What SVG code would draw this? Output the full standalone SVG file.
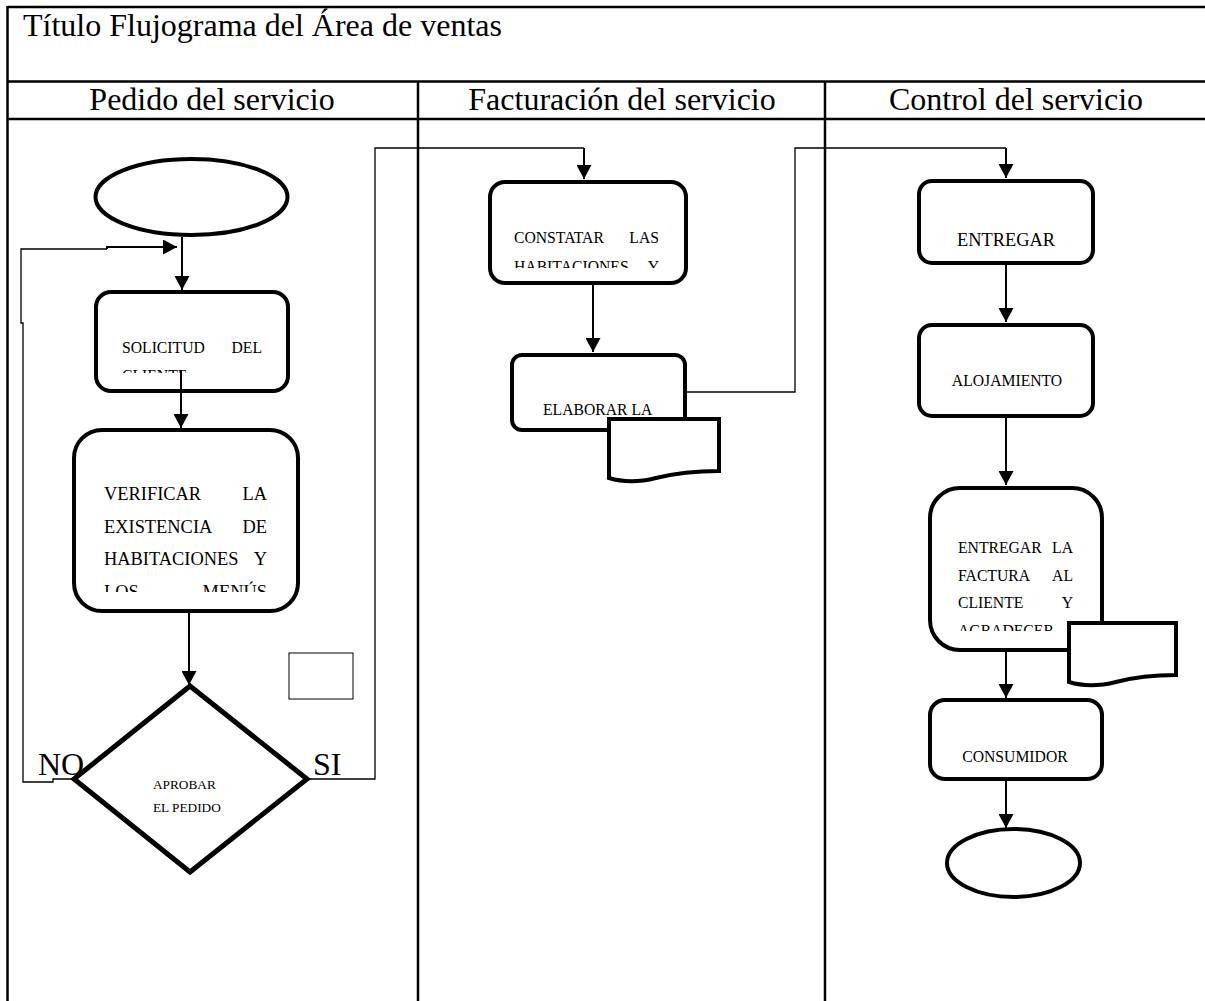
<svg xmlns="http://www.w3.org/2000/svg" width="1205" height="1001" viewBox="0 0 1205 1001">
<style>
.frame{stroke:#000;stroke-width:2.5;fill:none}
.hdr{font-family:"Liberation Serif","Times New Roman",serif;font-size:32px;fill:#000}
.box{fill:#fff;stroke:#000;stroke-width:4}
.t{font-family:"Liberation Serif","Times New Roman",serif;font-size:15.7px;fill:#000}
.tb{font-family:"Liberation Serif","Times New Roman",serif;font-size:18.4px;fill:#000}
.ts{font-family:"Liberation Serif","Times New Roman",serif;font-size:13.3px;fill:#000}
.c{fill:none;stroke:#000;stroke-width:1.3}
.a{fill:none;stroke:#000;stroke-width:2;marker-end:url(#ah)}
</style>
<defs>
<marker id="ah" markerUnits="userSpaceOnUse" markerWidth="15" markerHeight="15" refX="14" refY="7.5" orient="auto">
<path d="M0,0 L14,7.5 L0,15 Z" fill="#000"/>
</marker>
<clipPath id="cSol"><rect x="90" y="290" width="200" height="83"/></clipPath>
<clipPath id="cVer"><rect x="70" y="428" width="230" height="164"/></clipPath>
<clipPath id="cCon"><rect x="488" y="180" width="200" height="88"/></clipPath>
<clipPath id="cEnt"><rect x="928" y="486" width="176" height="145"/></clipPath>
</defs>
<rect width="1205" height="1001" fill="#fff"/>

<g id="frame">
<line class="frame" x1="7.5" y1="7" x2="1205" y2="7"/>
<line class="frame" x1="7.5" y1="81.5" x2="1205" y2="81.5"/>
<line class="frame" x1="7.5" y1="119" x2="1205" y2="119"/>
<line class="frame" x1="7.5" y1="6" x2="7.5" y2="1001"/>
<line class="frame" x1="418" y1="81.5" x2="418" y2="1001"/>
<line class="frame" x1="825" y1="81.5" x2="825" y2="1001"/>
<text class="hdr" x="23" y="36">Título Flujograma del Área de ventas</text>
<text class="hdr" x="212" y="110" text-anchor="middle">Pedido del servicio</text>
<text class="hdr" x="622" y="110" text-anchor="middle">Facturación del servicio</text>
<text class="hdr" x="1016" y="110" text-anchor="middle">Control del servicio</text>
</g>

<g id="start"><ellipse class="box" cx="191.5" cy="197" rx="96" ry="38"/></g>

<g id="solicitud">
<rect class="box" x="96" y="292" width="192" height="99" rx="15"/>
<g clip-path="url(#cSol)">
<text class="t" x="122" y="353">SOLICITUD</text><text class="t" x="262" y="353" text-anchor="end">DEL</text>
<text class="t" x="122" y="381">CLIENTE</text>
</g>
</g>

<g id="verificar">
<rect class="box" x="74" y="430" width="224" height="181" rx="28"/>
<g clip-path="url(#cVer)">
<text class="tb" x="104" y="500">VERIFICAR</text><text class="tb" x="267" y="500" text-anchor="end">LA</text>
<text class="tb" x="104" y="533">EXISTENCIA</text><text class="tb" x="267" y="533" text-anchor="end">DE</text>
<text class="tb" x="104" y="565">HABITACIONES</text><text class="tb" x="267" y="565" text-anchor="end">Y</text>
<text class="tb" x="104" y="598">LOS</text><text class="tb" x="267" y="598" text-anchor="end">MENÚS</text>
</g>
</g>

<g id="aprobar">
<polygon points="190,686 307,779 190,872 74,779" fill="#fff" stroke="#000" stroke-width="5" stroke-linejoin="miter"/>
<text class="ts" x="153" y="789">APROBAR</text>
<text class="ts" x="153" y="812">EL PEDIDO</text>
</g>

<g id="smallbox"><rect x="289" y="653" width="64" height="46" fill="#fff" stroke="#000" stroke-width="1"/></g>

<g id="labels">
<text class="hdr" x="38" y="775">NO</text>
<text class="hdr" x="313" y="775">SI</text>
</g>

<g id="constatar">
<rect class="box" x="490" y="182" width="196" height="101" rx="15"/>
<g clip-path="url(#cCon)">
<text class="t" x="514" y="243">CONSTATAR</text><text class="t" x="659" y="243" text-anchor="end">LAS</text>
<text class="t" x="514" y="272">HABITACIONES</text><text class="t" x="659" y="272" text-anchor="end">Y</text>
</g>
</g>

<g id="elaborar">
<rect class="box" x="512" y="355" width="173" height="75" rx="10"/>
<text class="t" x="543" y="415">ELABORAR LA</text>
<path class="box" d="M609,419 H719 V471 C692,471 672,474 656,478 C640,482 622,482 609,478 Z"/>
</g>

<g id="entregar">
<rect class="box" x="919" y="181" width="174" height="82" rx="13"/>
<text class="tb" x="1006" y="246" text-anchor="middle">ENTREGAR</text>
</g>

<g id="alojamiento">
<rect class="box" x="919" y="325" width="174" height="91" rx="13"/>
<text class="t" x="1007" y="386" text-anchor="middle">ALOJAMIENTO</text>
</g>

<g id="entregarfactura">
<rect class="box" x="930" y="488" width="172" height="162" rx="30"/>
<g clip-path="url(#cEnt)">
<text class="t" x="958" y="553">ENTREGAR</text><text class="t" x="1073" y="553" text-anchor="end">LA</text>
<text class="t" x="958" y="581">FACTURA</text><text class="t" x="1073" y="581" text-anchor="end">AL</text>
<text class="t" x="958" y="608">CLIENTE</text><text class="t" x="1073" y="608" text-anchor="end">Y</text>
<text class="t" x="958" y="636">AGRADECER</text>
</g>
<path class="box" d="M1069,623 H1176 V675 C1150,675 1131,678 1116,682 C1100,686 1082,686 1069,682 Z"/>
</g>

<g id="consumidor">
<rect class="box" x="930" y="700" width="172" height="79" rx="15"/>
<text class="t" x="1015" y="762" text-anchor="middle">CONSUMIDOR</text>
</g>

<g id="end"><ellipse class="box" cx="1013.5" cy="863" rx="66.5" ry="34"/></g>

<g id="connectors">
<line class="a" x1="182" y1="237" x2="182" y2="290"/>
<line class="a" x1="181" y1="370" x2="181" y2="428"/>
<line class="a" x1="189" y1="613" x2="189" y2="685"/>
<polyline class="c" points="73,779 53,779 53,782 23,782 23,323 21,323 21,249 107,249"/>
<polyline class="a" points="107,249 107,247 177,247"/>
<polyline class="c" points="308,779 375,779 375,148 584,148"/>
<line class="a" x1="584" y1="148" x2="584" y2="179"/>
<line class="a" x1="593" y1="285" x2="593" y2="352"/>
<polyline class="c" points="687,392 795,392 795,148 1006,148"/>
<line class="a" x1="1006" y1="148" x2="1006" y2="178"/>
<line class="a" x1="1006" y1="265" x2="1006" y2="322"/>
<line class="a" x1="1006" y1="418" x2="1006" y2="485"/>
<line class="a" x1="1006" y1="652" x2="1006" y2="698"/>
<line class="a" x1="1006" y1="781" x2="1006" y2="828"/>
</g>
</svg>
